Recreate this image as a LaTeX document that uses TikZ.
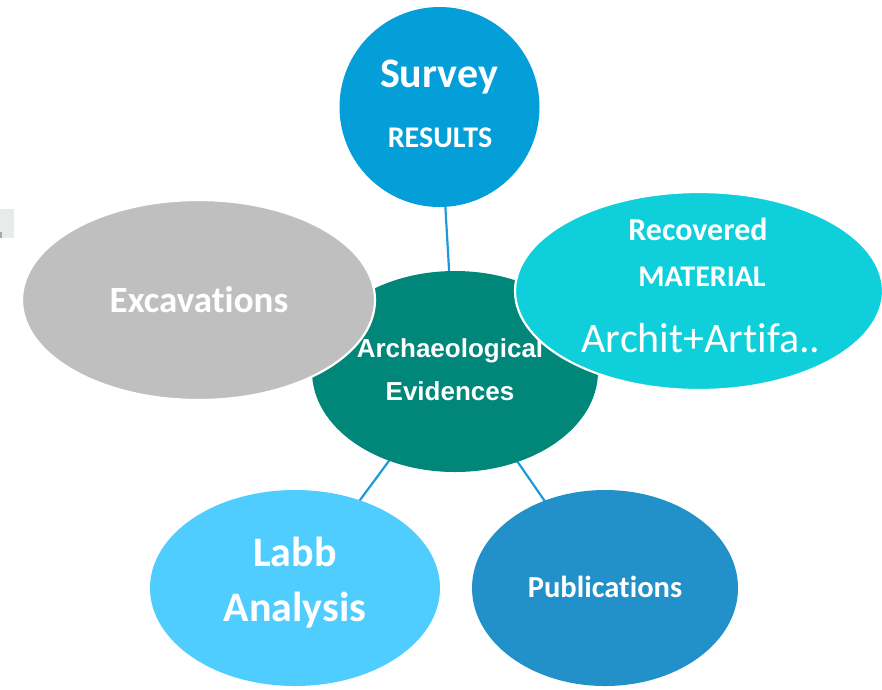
\documentclass[tikz,border=0pt]{standalone}
\usepackage{fontspec}
\setmainfont[Ligatures=NoCommon]{Carlito}
\newfontfamily\arialf{Liberation Sans}
\usetikzlibrary{shapes.geometric,backgrounds}
\definecolor{surveyc}{HTML}{049FD9}
\definecolor{tealc}{HTML}{00877A}
\definecolor{grayc}{HTML}{BFBFBF}
\definecolor{cyanc}{HTML}{0FCFDB}
\definecolor{lightc}{HTML}{4FCDFF}
\definecolor{pubc}{HTML}{2291C9}
\definecolor{linec}{HTML}{1E9AD6}
\definecolor{boxc}{HTML}{E6EBEB}
\newcommand{\fs}[1]{\fontsize{#1}{#1}\selectfont}
\begin{document}
\begin{tikzpicture}[x=1pt,y=-1pt,
  blob/.style={ellipse,inner sep=0pt,draw=none},
  outlined/.style={draw=white,line width=2.2pt},
  lbl/.style={text=white,anchor=base,inner sep=0pt,font=\bfseries},
  conn/.style={draw=linec,line width=2.2pt}]
\useasboundingbox (0,0) rectangle (882,689);
\fill[boxc] (0,209) rectangle (14,238);
\fill[gray!70] (0,232) rectangle (2,238);
% nodes
\node[circle,inner sep=0pt,minimum size=200pt,fill=surveyc] (survey) at (439.5,107) {};
\node[blob,fill=tealc,minimum width=286pt,minimum height=201pt] (center) at (455,371.5) {};
\node[blob,outlined,fill=grayc,minimum width=353pt,minimum height=200pt] (exc) at (198.5,300) {};
\node[lbl,font=\bfseries\arialf\fs{26}] (arch) at (450,357) {Archaeological};
\node[lbl,font=\bfseries\arialf\fs{26}] (evid) at (450,400) {Evidences};
\node[blob,outlined,fill=cyanc,minimum width=368pt,minimum height=198pt] (rec) at (699,291) {};
\node[blob,fill=lightc,minimum width=290pt,minimum height=196pt] (labb) at (295,588) {};
\node[blob,fill=pubc,minimum width=266pt,minimum height=196pt] (pub) at (605,588) {};
% texts
\node[lbl,font=\bfseries\fs{42}] (t1) at (439,87) {Survey};
\node[lbl,font=\bfseries\fs{30}] (t2) at (440,147) {RESULTS};
\node[lbl,font=\bfseries\fs{37}] (t3) at (199,312) {Excavations};
\node[lbl,font=\bfseries\fs{32}] (t4) at (698,240) {Recovered};
\node[lbl,font=\bfseries\fs{30}] (t5) at (702,286) {MATERIAL};
\node[lbl,font=\mdseries\fs{42}] (t6) at (701,352) {Archit+Artifa..};
\node[lbl,font=\bfseries\fs{42}] (t7) at (295,566) {Labb};
\node[lbl,font=\bfseries\fs{42}] (t8) at (295,621) {Analysis};
\node[lbl,font=\bfseries\fs{30.5}] (t9) at (605,597) {Publications};
% connectors
\begin{scope}[on background layer]
\draw[conn] (survey.center) -- (center.center);
\draw[conn] (center.center) -- (labb.center);
\draw[conn] (center.center) -- (pub.center);
\end{scope}
\end{tikzpicture}
\end{document}
